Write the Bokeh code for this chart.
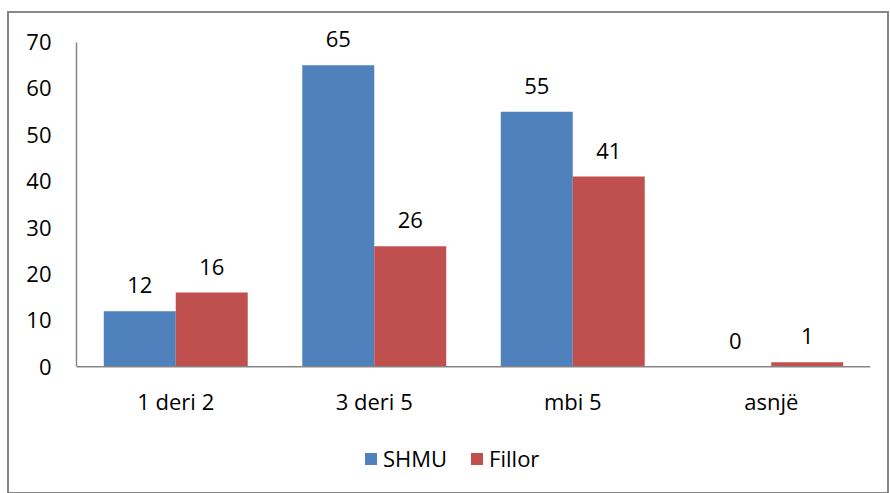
from bokeh.plotting import figure
from bokeh.models import (ColumnDataSource, FactorRange, FixedTicker, LabelSet, Legend,
                          LegendItem, Span)
from bokeh.core.properties import value
from bokeh.transform import dodge
from bokeh.embed import file_html
from bokeh.resources import INLINE

categories = ["1 deri 2", "3 deri 5", "mbi 5", "asnjë"]
shmu = [12, 65, 55, 0]
fillor = [16, 26, 41, 1]
series_names = ["SHMU", "Fillor"]
colors = ["#4F81BD", "#C0504D"]
y_ticks = [0, 10, 20, 30, 40, 50, 60, 70]

FONT = "Open Sans"
FS = "22px"

source = ColumnDataSource(data=dict(cat=categories, shmu=shmu, fillor=fillor,
                                    base=[0] * len(categories),
                                    shmu_txt=[str(v) for v in shmu],
                                    fillor_txt=[str(v) for v in fillor]))

p = figure(x_range=FactorRange(*categories, range_padding=0), y_range=(-26, 74),
           frame_width=794, frame_height=464, output_backend="svg", toolbar_location=None,
           min_border_left=67, min_border_right=17, min_border_top=10, min_border_bottom=5)
p.styles = {"border": "2px solid #878787", "margin-top": "11px", "margin-left": "7px"}
p.outline_line_color = None
p.xgrid.grid_line_color = None
p.ygrid.grid_line_color = None
p.background_fill_color = "white"
p.border_fill_color = "white"
p.xaxis.visible = False

off = 0.1813
bw = 0.3627
r1 = p.vbar(x=dodge("cat", -off, range=p.x_range), top="shmu", width=bw, source=source,
            fill_color=colors[0], line_color=None)
r2 = p.vbar(x=dodge("cat", off, range=p.x_range), top="fillor", width=bw, source=source,
            fill_color=colors[1], line_color=None)

# category axis line and labels
p.add_layout(Span(location=0, dimension="width", line_color="#868686", line_width=1.5))
p.add_layout(LabelSet(x="cat", y="base", text="cat", source=source,
                      text_align="center", text_baseline="alphabetic", y_offset=-43,
                      text_font=value(FONT), text_font_size=value(FS), text_color="black"))

for col, d in (("shmu", -off), ("fillor", off)):
    lbl = LabelSet(x=dodge("cat", d, range=p.x_range), y=col, text=col + "_txt", source=source,
                   text_align="center", text_baseline="alphabetic", y_offset=18,
                   text_font=value(FONT), text_font_size=value(FS), text_color="black")
    p.add_layout(lbl)

ax = p.yaxis[0]
ax.axis_line_color = "#868686"
ax.axis_line_width = 1.5
ax.major_tick_line_color = None
ax.minor_tick_line_color = None
ax.major_tick_out = 0
ax.major_tick_in = 0
ax.major_label_text_font = FONT
ax.major_label_text_font_size = FS
ax.major_label_text_color = "black"
ax.ticker = FixedTicker(ticks=y_ticks)
ax.bounds = (0, 70)
ax.major_label_standoff = 25

legend = Legend(items=[LegendItem(label=series_names[0], renderers=[r1]),
                       LegendItem(label=series_names[1], renderers=[r2])],
                orientation="horizontal", location=(287, 14),
                label_text_font=FONT, label_text_font_size=FS, label_text_color="black",
                glyph_width=15, glyph_height=15, label_standoff=5, spacing=22,
                border_line_color=None, background_fill_alpha=0, padding=0, margin=0)
p.add_layout(legend)

open("out.html", "w").write(file_html(p, INLINE))
